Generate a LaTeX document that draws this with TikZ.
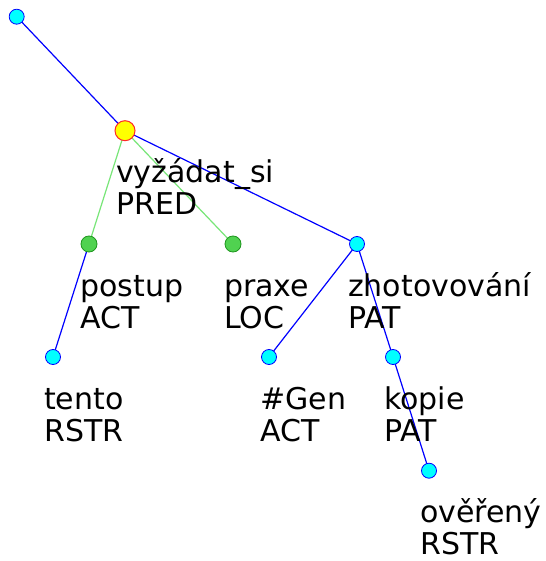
\documentclass[tikz,border=0pt]{standalone}
\usepackage{fontspec}
\setmainfont{DejaVu Sans}
\usetikzlibrary{calc}
\definecolor{edgeblue}{RGB}{0,0,255}
\definecolor{edgegreen}{RGB}{120,230,120}
\definecolor{nodecyan}{RGB}{0,255,255}
\definecolor{nodegreen}{RGB}{80,210,80}
\definecolor{greenborder}{RGB}{30,150,30}
\definecolor{nodeyellow}{RGB}{255,255,0}
\definecolor{nodered}{RGB}{255,40,40}
\tikzset{
  tnode/.style={circle,draw=edgeblue,fill=nodecyan,minimum size=15pt,inner sep=0pt,line width=0.8pt},
  gnode/.style={circle,draw=greenborder,fill=nodegreen,minimum size=16pt,inner sep=0pt,line width=0.8pt},
  pnode/.style={circle,draw=nodered,fill=nodeyellow,minimum size=20pt,inner sep=0pt,line width=1pt},
  tlabel/.style={anchor=base west,inner sep=0pt,align=left,font=\fontsize{30}{32}\selectfont},
  bedge/.style={draw=edgeblue,line width=1.2pt},
  gedge/.style={draw=edgegreen,line width=1.2pt}
}
\begin{document}
\begin{tikzpicture}[x=1pt,y=-1pt]
\useasboundingbox[fill=white] (0,0) rectangle (545,561);
% edges first
\coordinate (root) at (16.7,16.7);
\coordinate (pred) at (125,130.7);
\coordinate (postup) at (89,244);
\coordinate (praxe) at (233,244);
\coordinate (zhot) at (357,244);
\coordinate (tento) at (53,357);
\coordinate (gen) at (269,357);
\coordinate (kopie) at (393,357);
\coordinate (over) at (429,470.7);
\draw[bedge] (root) -- (pred);
\draw[gedge] (pred) -- (postup);
\draw[gedge] (pred) -- (praxe);
\draw[bedge] (pred) -- (zhot);
\draw[bedge] (postup) -- (tento);
\draw[bedge] (zhot) -- (gen);
\draw[bedge] (zhot) -- (kopie);
\draw[bedge] (kopie) -- (over);
% labels (base anchor = baseline of the last line)
\node[tlabel] (lpred) at ($(pred)+(-9,84)$) {vyžádat\_si\\PRED};
\node[tlabel] (lpostup) at ($(postup)+(-9,84)$) {postup\\ACT};
\node[tlabel] (lpraxe) at ($(praxe)+(-9,84)$) {praxe\\LOC};
\node[tlabel] (lzhot) at ($(zhot)+(-9,84)$) {zhotovování\\PAT};
\node[tlabel] (ltento) at ($(tento)+(-9,84)$) {tento\\RSTR};
\node[tlabel] (lgen) at ($(gen)+(-9,84)$) {\#Gen\\ACT};
\node[tlabel] (lkopie) at ($(kopie)+(-9,84)$) {kopie\\PAT};
\node[tlabel] (lover) at ($(over)+(-9,84)$) {ověřený\\RSTR};
% nodes on top
\node[tnode] (nroot) at (root) {};
\node[pnode] (npred) at (pred) {};
\node[gnode] (npostup) at (postup) {};
\node[gnode] (npraxe) at (praxe) {};
\node[tnode] (nzhot) at (zhot) {};
\node[tnode] (ntento) at (tento) {};
\node[tnode] (ngen) at (gen) {};
\node[tnode] (nkopie) at (kopie) {};
\node[tnode] (nover) at (over) {};
\end{tikzpicture}
\end{document}
